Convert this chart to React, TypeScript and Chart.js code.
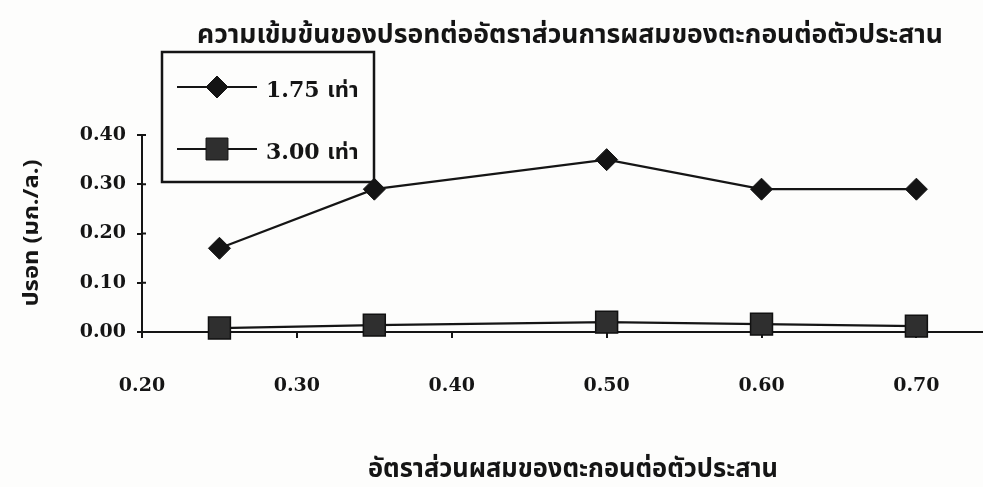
import React, { useEffect, useRef } from "react";
import { Chart, registerables } from "chart.js";

Chart.register(...registerables);

// Mixing ratio of sediment to binder (x) and mercury concentration in mg/L (y)
const mixRatios = [0.25, 0.35, 0.5, 0.6, 0.7];
const mercury175 = [0.17, 0.29, 0.35, 0.29, 0.29];
const mercury300 = [0.008, 0.014, 0.02, 0.016, 0.012];
const seriesLabels = ["1.75 เท่า", "3.00 เท่า"];
const xTickValues = [0.2, 0.3, 0.4, 0.5, 0.6, 0.7];
const yTickValues = [0, 0.1, 0.2, 0.3, 0.4];
const chartTitle = "ความเข้มข้นของปรอทต่ออัตราส่วนการผสมของตะกอนต่อตัวประสาน";
const xAxisTitle = "อัตราส่วนผสมของตะกอนต่อตัวประสาน";
const yAxisTitle = "ปรอท (มก./ล.)";

const INK = "#151515";
const THAI_FONT = '"Noto Sans Thai", "Noto Sans Thai UI", Loma, Garuda, "Tlwg Typist", "Noto Sans", sans-serif';
const NUM_FONT = '"DejaVu Serif", "Noto Sans Thai", Loma, Garuda, serif';

const WIDTH = 983;
const HEIGHT = 487;

// Draws a text string squeezed horizontally to a fixed width.
function fitText(
  ctx: CanvasRenderingContext2D,
  text: string,
  cx: number,
  baseline: number,
  width: number,
  font: string,
  rotate = 0
) {
  ctx.save();
  ctx.font = font;
  ctx.fillStyle = INK;
  ctx.textAlign = "center";
  ctx.textBaseline = "alphabetic";
  const w = ctx.measureText(text).width;
  ctx.translate(cx, baseline);
  if (rotate) ctx.rotate(rotate);
  ctx.scale(width / w, 1);
  ctx.fillText(text, 0, 0);
  ctx.restore();
}

const paperPlugin = {
  id: "paper",
  beforeDraw(chart: any) {
    const { ctx, width, height } = chart;
    ctx.save();
    ctx.fillStyle = "#fdfdfc";
    ctx.fillRect(0, 0, width, height);
    ctx.restore();
  },
};

// Short tick stubs on the inner side of the value axis, so the marks cross it.
const innerTicksPlugin = {
  id: "innerTicks",
  afterDraw(chart: any) {
    const { ctx } = chart;
    const y = chart.scales.y;
    const x0 = chart.chartArea.left;
    ctx.save();
    ctx.strokeStyle = INK;
    ctx.lineWidth = 2;
    yTickValues.slice(1).forEach((v) => {
      const py = y.getPixelForValue(v);
      ctx.beginPath();
      ctx.moveTo(x0, py);
      ctx.lineTo(x0 + 4, py);
      ctx.stroke();
    });
    ctx.restore();
  },
};

const boxedLegendPlugin = {
  id: "boxedLegend",
  beforeDatasetsDraw(chart: any) {
    const { ctx } = chart;
    const box = { x: 162, y: 52, w: 212, h: 130 };
    const rows = [87, 149];
    ctx.save();
    ctx.fillStyle = "#fdfdfc";
    ctx.fillRect(box.x, box.y, box.w, box.h);
    ctx.strokeStyle = INK;
    ctx.lineWidth = 2.5;
    ctx.strokeRect(box.x, box.y, box.w, box.h);
    chart.data.datasets.forEach((ds: any, i: number) => {
      const y = rows[i];
      ctx.strokeStyle = INK;
      ctx.lineWidth = 2.2;
      ctx.beginPath();
      ctx.moveTo(177, y);
      ctx.lineTo(257, y);
      ctx.stroke();
      ctx.fillStyle = ds.pointBackgroundColor;
      ctx.strokeStyle = ds.pointBorderColor;
      ctx.lineWidth = 1;
      const r = ds.pointRadius;
      ctx.beginPath();
      if (ds.pointStyle === "rectRot") {
        ctx.moveTo(217, y - r);
        ctx.lineTo(217 + r, y);
        ctx.lineTo(217, y + r);
        ctx.lineTo(217 - r, y);
        ctx.closePath();
      } else {
        const s = r * Math.SQRT1_2;
        ctx.rect(217 - s, y - s, 2 * s, 2 * s);
      }
      ctx.fill();
      ctx.stroke();
      ctx.fillStyle = INK;
      ctx.font = `bold 22px ${NUM_FONT}`;
      ctx.textAlign = "left";
      ctx.textBaseline = "middle";
      ctx.fillText(ds.label, 266, y + 4);
    });
    ctx.restore();
  },
};

const titlesPlugin = {
  id: "titles",
  afterDraw(chart: any) {
    const { ctx } = chart;
    fitText(ctx, chartTitle, 570, 43, 746, `bold 26px ${THAI_FONT}`);
    fitText(ctx, xAxisTitle, 573, 477, 410, `bold 26px ${THAI_FONT}`);
    fitText(ctx, yAxisTitle, 38, 233, 147, `bold 22px ${THAI_FONT}`, -Math.PI / 2);
  },
};

export default function App() {
  const canvasRef = useRef<HTMLCanvasElement | null>(null);

  useEffect(() => {
    if (!canvasRef.current) return;
    const chart = new Chart(canvasRef.current, {
      type: "line",
      data: {
        datasets: [
          {
            label: seriesLabels[0],
            data: mixRatios.map((x, i) => ({ x, y: mercury175[i] })),
            borderColor: INK,
            borderWidth: 2.2,
            pointStyle: "rectRot",
            pointRadius: 11,
            pointBackgroundColor: "#141414",
            pointBorderColor: "#141414",
            pointBorderWidth: 1,
            tension: 0,
            clip: false,
          },
          {
            label: seriesLabels[1],
            data: mixRatios.map((x, i) => ({ x, y: mercury300[i] })),
            borderColor: INK,
            borderWidth: 2.2,
            pointStyle: "rect",
            pointRadius: 15.5,
            pointBackgroundColor: "#2f2f2f",
            pointBorderColor: "#111111",
            pointBorderWidth: 1.5,
            tension: 0,
            clip: false,
          },
        ] as any,
      },
      options: {
        animation: false,
        responsive: false,
        devicePixelRatio: 1,
        layout: { autoPadding: false, padding: { top: 135, right: 0, left: 0, bottom: 0 } },
        plugins: {
          legend: { display: false },
          title: { display: false },
          tooltip: { enabled: false },
        },
        scales: {
          x: {
            type: "linear",
            min: 0.2,
            max: 0.743,
            afterBuildTicks: (s: any) => {
              s.ticks = xTickValues.map((v) => ({ value: v }));
            },
            afterFit: (s: any) => {
              s.height = 155;
            },
            ticks: {
              padding: 37,
              color: INK,
              font: { family: NUM_FONT, size: 19, weight: "bold" },
              callback: (v: any) => Number(v).toFixed(2),
              maxRotation: 0,
            },
            grid: {
              drawOnChartArea: false,
              drawTicks: true,
              tickLength: 6,
              color: INK,
              lineWidth: 2,
            },
            border: { display: true, color: INK, width: 2 },
          },
          y: {
            type: "linear",
            min: 0,
            max: 0.4,
            afterBuildTicks: (s: any) => {
              s.ticks = yTickValues.map((v) => ({ value: v }));
            },
            afterFit: (s: any) => {
              s.width = 142;
            },
            ticks: {
              padding: 11,
              color: INK,
              font: { family: NUM_FONT, size: 19, weight: "bold" },
              callback: (v: any) => Number(v).toFixed(2),
            },
            grid: {
              drawOnChartArea: false,
              drawTicks: true,
              tickLength: 5,
              color: INK,
              lineWidth: 2,
            },
            border: { display: true, color: INK, width: 2 },
          },
        },
      } as any,
      plugins: [paperPlugin, boxedLegendPlugin, innerTicksPlugin, titlesPlugin],
    });
    return () => chart.destroy();
  }, []);

  return (
    <div style={{ position: "fixed", left: 0, top: 0, width: WIDTH, height: HEIGHT, background: "#fdfdfc" }}>
      <canvas ref={canvasRef} width={WIDTH} height={HEIGHT} style={{ display: "block" }} />
    </div>
  );
}
